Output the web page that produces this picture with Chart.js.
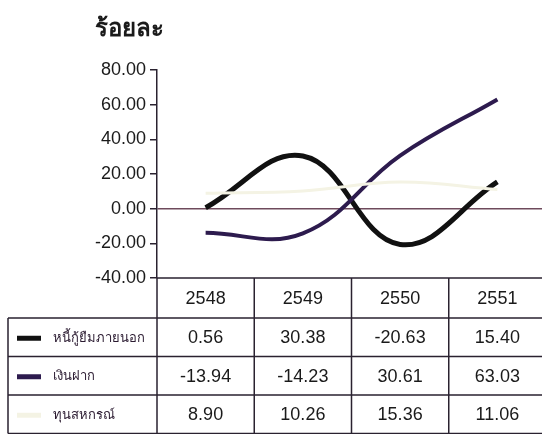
<!DOCTYPE html>
<html>
<head>
<meta charset="utf-8">
<script src="https://cdn.jsdelivr.net/npm/chart.js@4"></script>
<style>
  html, body { margin: 0; padding: 0; background: #fff; overflow: hidden; }
</style>
</head>
<body>
<canvas id="chart" width="550" height="434"></canvas>
<script>
const years = ['2548', '2549', '2550', '2551'];
const seriesNames = ['หนี้กู้ยืมภายนอก', 'เงินฝาก', 'ทุนสหกรณ์'];
const externalDebt = [0.56, 30.38, -20.63, 15.40];
const deposits = [-13.94, -14.23, 30.61, 63.03];
const shareCapital = [8.90, 10.26, 15.36, 11.06];
const yTicks = [80, 60, 40, 20, 0, -20, -40];

const lineColors = ['#111111', '#2d1b4e', '#f4f3e4'];
const gridColor = '#2a2230';
const numFont = '18px "Liberation Sans", Arial, sans-serif';

// draws the title and the data table under the plot
const tablePlugin = {
  id: 'dataTable',
  afterDraw(chart) {
    const ctx = chart.ctx;
    const area = chart.chartArea;
    const x = chart.scales.x;
    const right = chart.width - 4;
    const top = area.bottom;
    const headerH = 40;
    const rowH = 38.5;
    const legendLeft = 8;
    const rows = [externalDebt, deposits, shareCapital];
    const bottom = top + headerH + rows.length * rowH;

    ctx.save();

    // title
    ctx.fillStyle = '#1a1a1a';
    ctx.font = 'bold 24px "Noto Sans", "DejaVu Sans", sans-serif';
    ctx.textAlign = 'left';
    ctx.textBaseline = 'alphabetic';
    ctx.fillText('ร้อยละ', 95, 36);

    // grid of the table
    ctx.strokeStyle = gridColor;
    ctx.lineWidth = 1.5;
    ctx.beginPath();
    ctx.moveTo(area.left, top);
    ctx.lineTo(right, top);
    for (let r = 0; r <= rows.length; r++) {
      const y = top + headerH + r * rowH;
      ctx.moveTo(legendLeft, y);
      ctx.lineTo(right, y);
    }
    ctx.moveTo(legendLeft, top + headerH);
    ctx.lineTo(legendLeft, bottom);
    ctx.moveTo(area.left, top);
    ctx.lineTo(area.left, bottom);
    const colW = (area.right - area.left) / years.length;
    for (let i = 1; i <= years.length; i++) {
      const cx = area.left + i * colW;
      ctx.moveTo(cx, top);
      ctx.lineTo(cx, bottom);
    }
    ctx.stroke();

    // header
    ctx.fillStyle = '#1a1a1a';
    ctx.font = numFont;
    ctx.textAlign = 'center';
    ctx.textBaseline = 'middle';
    years.forEach((yr, i) => {
      ctx.fillText(yr, x.getPixelForValue(i), top + headerH / 2 + 1);
    });

    // rows
    rows.forEach((vals, r) => {
      const cy = top + headerH + r * rowH + rowH / 2 + 1;
      vals.forEach((v, i) => {
        ctx.font = numFont;
        ctx.textAlign = 'center';
        ctx.fillStyle = '#1a1a1a';
        ctx.fillText(v.toFixed(2), x.getPixelForValue(i), cy);
      });
      // legend marker and name
      ctx.strokeStyle = lineColors[r];
      ctx.lineWidth = 5;
      ctx.beginPath();
      ctx.moveTo(17, cy);
      ctx.lineTo(41, cy);
      ctx.stroke();
      ctx.fillStyle = '#2a1a30';
      ctx.font = '13px "Noto Sans", "DejaVu Sans", sans-serif';
      ctx.textAlign = 'left';
      ctx.fillText(seriesNames[r], 53, cy);
    });

    ctx.restore();
  }
};

new Chart(document.getElementById('chart'), {
  type: 'line',
  data: {
    labels: years,
    datasets: [
      { label: seriesNames[0], data: externalDebt, borderColor: lineColors[0], borderWidth: 5 },
      { label: seriesNames[1], data: deposits, borderColor: lineColors[1], borderWidth: 4 },
      { label: seriesNames[2], data: shareCapital, borderColor: lineColors[2], borderWidth: 3 }
    ].map(d => Object.assign(d, {
      tension: 0.4,
      pointRadius: 0,
      fill: false,
      borderCapStyle: 'butt'
    })).reverse()
  },
  options: {
    responsive: false,
    animation: false,
    layout: { padding: { top: 70, bottom: 156, left: 0, right: 4 } },
    plugins: {
      legend: { display: false },
      tooltip: { enabled: false }
    },
    scales: {
      x: {
        display: false,
        offset: true
      },
      y: {
        min: yTicks[yTicks.length - 1],
        max: yTicks[0],
        afterBuildTicks: scale => {
          scale.ticks = yTicks.map(v => ({ value: v }));
        },
        afterFit: scale => { scale.width = 157; },
        border: { display: true, color: gridColor, width: 1.5 },
        grid: {
          drawOnChartArea: true,
          tickLength: 7,
          color: c => c.tick.value === 0 ? '#6e4a5c' : 'rgba(0,0,0,0)',
          tickColor: gridColor,
          lineWidth: 1.5
        },
        ticks: {
          padding: 4,
          color: '#1a1a1a',
          font: { family: '"Liberation Sans", Arial, sans-serif', size: 18 },
          callback: v => v.toFixed(2)
        }
      }
    }
  },
  plugins: [tablePlugin]
});
</script>
</body>
</html>
